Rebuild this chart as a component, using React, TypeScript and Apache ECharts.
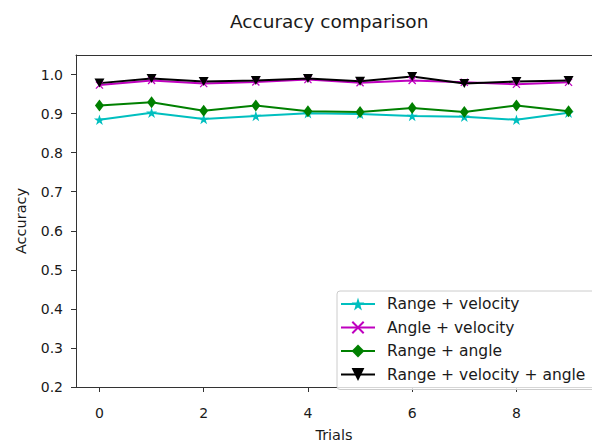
import React, { useEffect, useRef } from "react";
import * as echarts from "echarts";

const TRIALS = [0, 1, 2, 3, 4, 5, 6, 7, 8, 9];
const X_TICKS = [0, 2, 4, 6, 8];
const Y_TICKS = [0.2, 0.3, 0.4, 0.5, 0.6, 0.7, 0.8, 0.9, 1.0];

const RANGE_VELOCITY = [0.884, 0.902, 0.886, 0.894, 0.901, 0.899, 0.894, 0.892, 0.884, 0.902];
const ANGLE_VELOCITY = [0.973, 0.985, 0.977, 0.981, 0.987, 0.979, 0.985, 0.980, 0.975, 0.980];
const RANGE_ANGLE = [0.921, 0.929, 0.907, 0.921, 0.906, 0.904, 0.914, 0.904, 0.921, 0.906];
const RANGE_VELOCITY_ANGLE = [0.978, 0.990, 0.982, 0.985, 0.990, 0.983, 0.995, 0.977, 0.982, 0.985];

const SERIES_NAMES = [
  "Range + velocity",
  "Angle + velocity",
  "Range + angle",
  "Range + velocity + angle",
];

const STAR =
  "path://M0,-1 L0.2245,-0.309 L0.951,-0.309 L0.363,0.118 L0.588,0.809 L0,0.382 L-0.588,0.809 L-0.363,0.118 L-0.951,-0.309 L-0.2245,-0.309 Z";
const CROSS =
  "path://M-0.78,-1 L1,0.78 L0.78,1 L-1,-0.78 Z M0.78,-1 L1,-0.78 L-0.78,1 L-1,0.78 Z";

const FONT = "DejaVu Sans";
const TEXT = "#1a1a1a";
const SPINE = "#333333";

export default function App() {
  const ref = useRef<HTMLDivElement>(null);

  useEffect(() => {
    document.body.style.margin = "0";
    if (!ref.current) return;
    const chart = echarts.init(ref.current, undefined, { renderer: "svg" });

    const mk = (
      name: string,
      values: number[],
      color: string,
      symbol: string,
      size: number | number[],
      rotate = 0
    ) => ({
      name,
      type: "line",
      xAxisIndex: 0,
      yAxisIndex: 0,
      data: TRIALS.map((t, i) => [t, values[i]]),
      symbol,
      symbolSize: size,
      symbolRotate: rotate,
      symbolKeepAspect: true,
      showAllSymbol: true,
      lineStyle: { color, width: 2 },
      itemStyle: { color, borderWidth: 0 },
      emphasis: { disabled: true },
    });

    chart.setOption({
      animation: false,
      backgroundColor: "#ffffff",
      textStyle: { fontFamily: FONT, color: TEXT },
      title: {
        text: "Accuracy comparison",
        left: 225,
        top: 7,
        textStyle: { fontFamily: FONT, fontSize: 18.5, fontWeight: "normal", color: TEXT },
      },
      grid: {
        left: 76,
        top: 55,
        width: 525,
        height: 343,
        containLabel: false,
      },
      legend: {
        orient: "vertical",
        left: 337,
        top: 291,
        padding: [5, 11, 7, 3],
        itemWidth: 34,
        itemHeight: 16,
        itemGap: 7.5,
        backgroundColor: "rgba(255,255,255,0.8)",
        borderColor: "#cccccc",
        borderWidth: 1,
        borderRadius: 3,
        textStyle: { fontFamily: FONT, fontSize: 15.5, color: TEXT, padding: [0, 0, 0, 7] },
        data: SERIES_NAMES,
      },
      xAxis: [
        {
          type: "value",
          position: "bottom",
          min: -0.45,
          max: 9.45,
          name: "Trials",
          nameLocation: "middle",
          nameGap: 40,
          nameTextStyle: { fontFamily: FONT, fontSize: 14.5, color: TEXT },
          axisLine: { show: true, onZero: false, lineStyle: { color: SPINE, width: 1 } },
          axisTick: {
            show: true,
            length: 5,
            customValues: X_TICKS,
            lineStyle: { color: SPINE, width: 1 },
          },
          axisLabel: {
            customValues: X_TICKS,
            margin: 19,
            fontFamily: FONT,
            fontSize: 14,
            color: TEXT,
          },
          splitLine: { show: false },
        },
        {
          type: "value",
          position: "top",
          min: -0.45,
          max: 9.45,
          axisLine: { show: true, onZero: false, lineStyle: { color: SPINE, width: 1 } },
          axisTick: { show: false },
          axisLabel: { show: false },
          splitLine: { show: false },
        },
      ],
      yAxis: [
        {
          type: "value",
          position: "left",
          min: 0.2,
          max: 1.05,
          name: "Accuracy",
          nameLocation: "middle",
          nameGap: 48,
          nameRotate: 90,
          nameTextStyle: { fontFamily: FONT, fontSize: 14.5, color: TEXT },
          axisLine: { show: true, onZero: false, lineStyle: { color: SPINE, width: 1 } },
          axisTick: {
            show: true,
            length: 5,
            customValues: Y_TICKS,
            lineStyle: { color: SPINE, width: 1 },
          },
          axisLabel: {
            customValues: Y_TICKS,
            margin: 13,
            fontFamily: FONT,
            fontSize: 14,
            color: TEXT,
            formatter: (v: number) => v.toFixed(1),
          },
          splitLine: { show: false },
        },
        {
          type: "value",
          position: "right",
          min: 0.2,
          max: 1.05,
          axisLine: { show: true, onZero: false, lineStyle: { color: SPINE, width: 1 } },
          axisTick: { show: false },
          axisLabel: { show: false },
          splitLine: { show: false },
        },
      ],
      series: [
        mk(SERIES_NAMES[0], RANGE_VELOCITY, "#00bfbf", STAR, 11),
        mk(SERIES_NAMES[1], ANGLE_VELOCITY, "#bf00bf", CROSS, 8),
        mk(SERIES_NAMES[2], RANGE_ANGLE, "#008000", "diamond", [9, 12]),
        mk(SERIES_NAMES[3], RANGE_VELOCITY_ANGLE, "#000000", "triangle", [10, 9], 180),
      ],
    });

    return () => chart.dispose();
  }, []);

  return <div ref={ref} style={{ width: 592, height: 447 }} />;
}
